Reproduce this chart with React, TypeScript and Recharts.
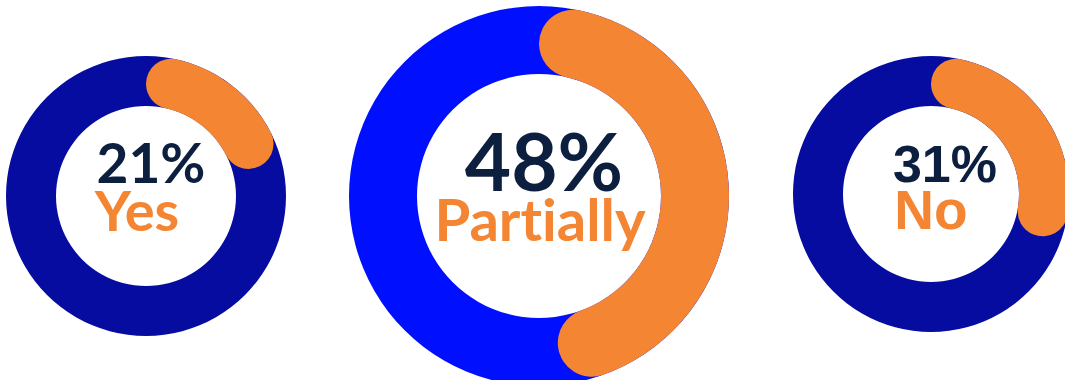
import React from 'react';
import { PieChart, Pie, Cell } from 'recharts';

const categories = ['Yes', 'Partially', 'No'];
const percentValues = [21, 48, 31];
const percentLabels = ['21%', '48%', '31%'];

const ORANGE = '#F48532';
const NAVY = '#060C9F';
const BLUE = '#0010FF';
const TEXT_DARK = '#0C1F3F';

const rings = [
  { cx: 146, cy: 196, inner: 90, outer: 140, bg: NAVY },
  { cx: 539, cy: 196, inner: 122, outer: 190, bg: BLUE },
  { cx: 931, cy: 194, inner: 88, outer: 138, bg: NAVY },
];

const textStyles = [
  { font: 'Lato, sans-serif', pctSize: 55, pctX: 151, pctY: 183, catSize: 56, catX: 137, catY: 231 },
  { font: 'Lato, sans-serif', pctSize: 80, pctX: 544, pctY: 191, catSize: 58, catX: 540, catY: 241 },
  { font: "'Liberation Sans', Arial, sans-serif", pctSize: 52, pctX: 945, pctY: 182, catSize: 55, catX: 931, catY: 229 },
];

export default function App() {
  return (
    <div style={{ position: 'absolute', left: 0, top: 0, width: 1065, height: 380, background: '#fff' }}>
      <PieChart width={1065} height={380} margin={{ top: 0, right: 0, bottom: 0, left: 0 }}>
        {rings.map((r, i) => (
          <Pie
            key={`bg-${i}`}
            data={[{ name: 'all', value: 100 }]}
            dataKey="value"
            cx={r.cx}
            cy={r.cy}
            innerRadius={r.inner}
            outerRadius={r.outer}
            startAngle={90}
            endAngle={-270}
            stroke="none"
            isAnimationActive={false}
          >
            <Cell fill={r.bg} />
          </Pie>
        ))}
        {rings.map((r, i) => (
          <Pie
            key={`fg-${i}`}
            data={[
              { name: categories[i], value: percentValues[i] },
              { name: 'rest', value: 100 - percentValues[i] },
            ]}
            dataKey="value"
            cx={r.cx}
            cy={r.cy}
            innerRadius={r.inner}
            outerRadius={r.outer}
            startAngle={90}
            endAngle={-270}
            cornerRadius={(r.outer - r.inner) / 2}
            stroke="none"
            isAnimationActive={false}
          >
            <Cell fill={ORANGE} />
            <Cell fill="transparent" />
          </Pie>
        ))}
        {textStyles.map((t, i) => (
          <g key={`txt-${i}`}>
            <text
              x={t.pctX}
              y={t.pctY}
              textAnchor="middle"
              fill={TEXT_DARK}
              style={{ fontFamily: t.font, fontWeight: 700, fontSize: t.pctSize, fontVariantLigatures: 'none' }}
            >
              {percentLabels[i]}
            </text>
            <text
              x={t.catX}
              y={t.catY}
              textAnchor="middle"
              fill={ORANGE}
              style={{ fontFamily: t.font, fontWeight: 700, fontSize: t.catSize, fontVariantLigatures: 'none' }}
            >
              {categories[i]}
            </text>
          </g>
        ))}
      </PieChart>
    </div>
  );
}
